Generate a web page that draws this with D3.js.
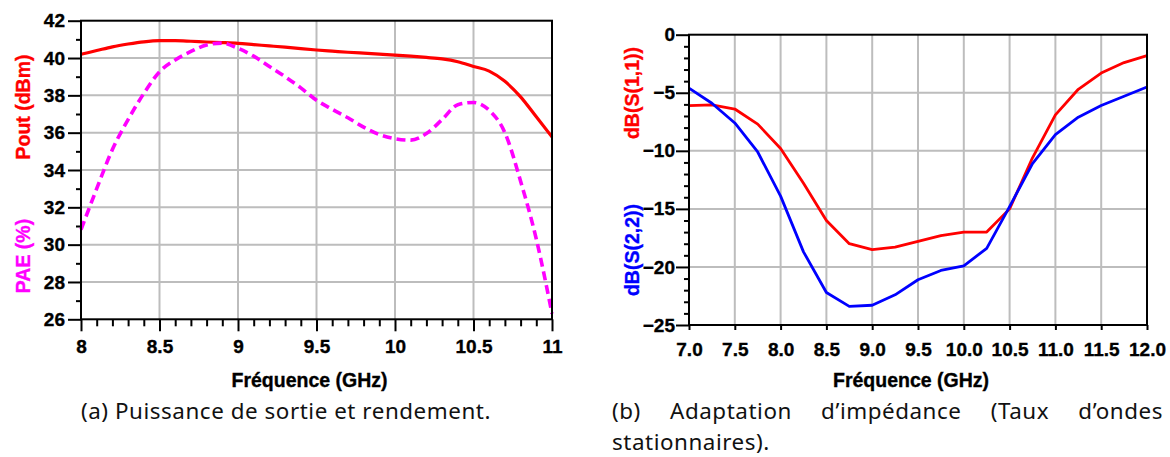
<!DOCTYPE html>
<html>
<head>
<meta charset="utf-8">
<script src="https://cdn.jsdelivr.net/npm/d3@7"></script>
<style>
  html, body { margin: 0; padding: 0; background: #fff; }
  svg { display: block; }
  .bold { font-family: "Liberation Sans", Arial, sans-serif; font-weight: 700; }
</style>
</head>
<body>
<svg id="chart" width="1170" height="457"></svg>
<script>
// ---------- Data: chart (a) ----------
const freqA = [8.0, 8.1, 8.2, 8.3, 8.4, 8.5, 8.6, 8.7, 8.8, 8.9, 9.0, 9.1, 9.2, 9.3, 9.4, 9.5,
               9.6, 9.7, 9.8, 9.9, 10.0, 10.1, 10.2, 10.3, 10.4, 10.5, 10.6, 10.7, 10.8, 10.9, 11.0];
const pout = [40.2, 40.4, 40.6, 40.75, 40.87, 40.93, 40.93, 40.9, 40.86, 40.83, 40.79, 40.72, 40.65, 40.58, 40.5, 40.43,
              40.37, 40.31, 40.26, 40.21, 40.16, 40.1, 40.03, 39.95, 39.8, 39.55, 39.3, 38.75, 37.92, 36.85, 35.77];
const pae  = [30.8, 33.0, 35.1, 36.7, 38.1, 39.26, 39.9, 40.35, 40.7, 40.8, 40.52, 40.1, 39.55, 39.0, 38.4, 37.74,
              37.25, 36.8, 36.3, 35.9, 35.68, 35.6, 35.95, 36.7, 37.5, 37.62, 37.2, 36.0, 33.4, 30.3, 26.3];
const xTicksA = [8, 8.5, 9, 9.5, 10, 10.5, 11];
const xTickLabelsA = ["8", "8.5", "9", "9.5", "10", "10.5", "11"];
const yTicksA = [26, 28, 30, 32, 34, 36, 38, 40, 42];

// ---------- Data: chart (b) ----------
const freqB = [7.0, 7.25, 7.5, 7.75, 8.0, 8.25, 8.5, 8.75, 9.0, 9.25, 9.5, 9.75, 10.0, 10.25, 10.5,
               10.75, 11.0, 11.25, 11.5, 11.75, 12.0];
const s11 = [-6.1, -6.05, -6.4, -7.7, -9.8, -12.8, -16.0, -18.0, -18.5, -18.3, -17.8, -17.3, -17.0, -17.0, -15.0,
             -10.6, -6.9, -4.7, -3.3, -2.4, -1.8];
const s22 = [-4.6, -5.9, -7.6, -10.1, -13.9, -18.7, -22.2, -23.4, -23.3, -22.4, -21.1, -20.3, -19.9, -18.4, -14.8,
             -11.1, -8.6, -7.1, -6.1, -5.3, -4.5];
const xTicksB = [7.0, 7.5, 8.0, 8.5, 9.0, 9.5, 10.0, 10.5, 11.0, 11.5, 12.0];
const yTicksB = [0, -5, -10, -15, -20, -25];

const captionA = "(a) Puissance de sortie et rendement.";
const captionB1 = ["(b)", "Adaptation", "d’impédance", "(Taux", "d’ondes"];
const captionB2 = "stationnaires).";

// ---------- Drawing ----------
const svg = d3.select("#chart");
const gridColor = "#bdbdbd";

function boldText(sel, size, color) {
  sel.attr("class", "bold").attr("font-size", size).style("font-size", size + "px")
     .attr("fill", color).attr("stroke", color).attr("stroke-width", 0.35);
}
function styleAxis(g, withLabels) {
  g.attr("font-family", null).attr("font-size", null);
  g.select(".domain").remove();
  g.selectAll(".tick line").attr("stroke", "#000").attr("stroke-width", 2);
  if (withLabels) g.selectAll(".tick text").call(boldText, 19, "#000");
  else g.selectAll(".tick text").remove();
}

// ===== Chart (a) =====
const xA = d3.scaleLinear().domain([8, 11]).range([81, 552]);
const yA = d3.scaleLinear().domain([26, 42]).range([319.3, 20.7]);
const gA = svg.append("g");

gA.append("g").selectAll("line").data(xTicksA.slice(1, -1)).join("line")
  .attr("x1", d => xA(d)).attr("x2", d => xA(d)).attr("y1", yA(42)).attr("y2", yA(26))
  .attr("stroke", gridColor).attr("stroke-width", 2);
gA.append("g").selectAll("line").data(yTicksA.slice(1, -1)).join("line")
  .attr("x1", xA(8)).attr("x2", xA(11)).attr("y1", d => yA(d)).attr("y2", d => yA(d))
  .attr("stroke", gridColor).attr("stroke-width", 2);

const lineA = (vals) => d3.line().x((d, i) => xA(freqA[i])).y(d => yA(d)).curve(d3.curveMonotoneX)(vals);
gA.append("path").attr("d", lineA(pout)).attr("fill", "none").attr("stroke", "#ff0000").attr("stroke-width", 3.2);
gA.append("path").attr("d", lineA(pae)).attr("fill", "none").attr("stroke", "#ff00ff").attr("stroke-width", 3.6)
  .attr("stroke-dasharray", "9,5");

const minorXA = d3.range(80, 111).map(d => d / 10).filter(d => !xTicksA.some(t => Math.abs(t - d) < 1e-6));
gA.append("g").attr("transform", `translate(0,${yA(26)})`)
  .call(d3.axisBottom(xA).tickValues(minorXA).tickSize(7).tickSizeOuter(0))
  .call(g => styleAxis(g, false));
gA.append("g").attr("transform", `translate(0,${yA(26)})`)
  .call(d3.axisBottom(xA).tickValues(xTicksA).tickSize(12).tickPadding(8.5).tickSizeOuter(0)
        .tickFormat((d, i) => xTickLabelsA[i]))
  .call(g => styleAxis(g, true));
const minorYA = d3.range(27, 42, 2);
gA.append("g").attr("transform", `translate(${xA(8)},0)`)
  .call(d3.axisLeft(yA).tickValues(minorYA).tickSize(5).tickSizeOuter(0))
  .call(g => styleAxis(g, false));
gA.append("g").attr("transform", `translate(${xA(8)},0)`)
  .call(d3.axisLeft(yA).tickValues(yTicksA).tickSize(13).tickPadding(3).tickSizeOuter(0).tickFormat(d3.format("d")))
  .call(g => styleAxis(g, true));

gA.append("rect").attr("x", xA(8)).attr("y", yA(42)).attr("width", xA(11) - xA(8)).attr("height", yA(26) - yA(42))
  .attr("fill", "none").attr("stroke", "#000").attr("stroke-width", 2);

gA.append("text").attr("x", 309.5).attr("y", 387).attr("text-anchor", "middle")
  .call(boldText, 19.5, "#000").text("Fréquence (GHz)");
gA.append("text").attr("transform", "translate(30,107) rotate(-90)").attr("text-anchor", "middle")
  .call(boldText, 19.5, "#ff0000").text("Pout (dBm)");
gA.append("text").attr("transform", "translate(30,256) rotate(-90)").attr("text-anchor", "middle")
  .call(boldText, 19.5, "#ff00ff").text("PAE (%)");

// ===== Chart (b) =====
const xB = d3.scaleLinear().domain([7, 12]).range([689, 1147]);
const yB = d3.scaleLinear().domain([-25, 0]).range([325, 34.7]);
const gB = svg.append("g");

gB.append("g").selectAll("line").data(xTicksB.slice(1, -1)).join("line")
  .attr("x1", d => xB(d)).attr("x2", d => xB(d)).attr("y1", yB(0)).attr("y2", yB(-25))
  .attr("stroke", gridColor).attr("stroke-width", 2);
gB.append("g").selectAll("line").data(yTicksB.slice(1, -1)).join("line")
  .attr("x1", xB(7)).attr("x2", xB(12)).attr("y1", d => yB(d)).attr("y2", d => yB(d))
  .attr("stroke", gridColor).attr("stroke-width", 2);

const lineB = (vals) => d3.line().x((d, i) => xB(freqB[i])).y(d => yB(d))(vals);
gB.append("path").attr("d", lineB(s11)).attr("fill", "none").attr("stroke", "#ff0000").attr("stroke-width", 2.8)
  .attr("stroke-linejoin", "round");
gB.append("path").attr("d", lineB(s22)).attr("fill", "none").attr("stroke", "#0000ff").attr("stroke-width", 2.8)
  .attr("stroke-linejoin", "round");

gB.append("g").attr("transform", `translate(0,${yB(-25)})`)
  .call(d3.axisBottom(xB).tickValues(xTicksB).tickSize(5).tickPadding(12.5).tickSizeOuter(0).tickFormat(d3.format(".1f")))
  .call(g => styleAxis(g, true));
const minorYB = d3.range(-24, 0).filter(d => d % 5 !== 0);
gB.append("g").attr("transform", `translate(${xB(7)},0)`)
  .call(d3.axisLeft(yB).tickValues(minorYB).tickSize(5).tickSizeOuter(0))
  .call(g => styleAxis(g, false));
gB.append("g").attr("transform", `translate(${xB(7)},0)`)
  .call(d3.axisLeft(yB).tickValues(yTicksB).tickSize(13).tickPadding(1).tickSizeOuter(0).tickFormat(d3.format("d")))
  .call(g => styleAxis(g, true));

gB.append("rect").attr("x", xB(7)).attr("y", yB(0)).attr("width", xB(12) - xB(7)).attr("height", yB(-25) - yB(0))
  .attr("fill", "none").attr("stroke", "#000").attr("stroke-width", 2);

gB.append("text").attr("x", 911).attr("y", 387).attr("text-anchor", "middle")
  .call(boldText, 19.5, "#000").text("Fréquence (GHz)");
gB.append("text").attr("transform", "translate(639,93) rotate(-90)").attr("text-anchor", "middle")
  .call(boldText, 19.5, "#ff0000").text("dB(S(1,1))");
gB.append("text").attr("transform", "translate(639,250) rotate(-90)").attr("text-anchor", "middle")
  .call(boldText, 19.5, "#0000ff").text("dB(S(2,2))");

// ===== Captions =====
const capFamily = "'Noto Sans', 'Open Sans', sans-serif";
const capSize = 22.4;
const capA = svg.append("text").attr("x", 81).attr("y", 419)
  .attr("font-family", capFamily).attr("font-size", capSize).attr("fill", "#111").text(captionA);
const spacing = (410 - capA.node().getComputedTextLength()) / captionA.length;
capA.attr("letter-spacing", spacing);

const capLeft = 612, capRight = 1163;
const words = svg.append("g").selectAll("text").data(captionB1).join("text")
  .attr("y", 419).attr("font-family", capFamily).attr("font-size", capSize).attr("letter-spacing", spacing)
  .attr("fill", "#111").text(d => d);
const widths = [];
words.each(function () { widths.push(this.getComputedTextLength()); });
const gap = (capRight - capLeft - d3.sum(widths)) / (captionB1.length - 1);
let cx = capLeft;
words.each(function (d, i) { d3.select(this).attr("x", cx); cx += widths[i] + gap; });
svg.append("text").attr("x", capLeft).attr("y", 450).attr("font-family", capFamily)
  .attr("font-size", capSize).attr("letter-spacing", spacing).attr("fill", "#111").text(captionB2);
</script>
</body>
</html>
